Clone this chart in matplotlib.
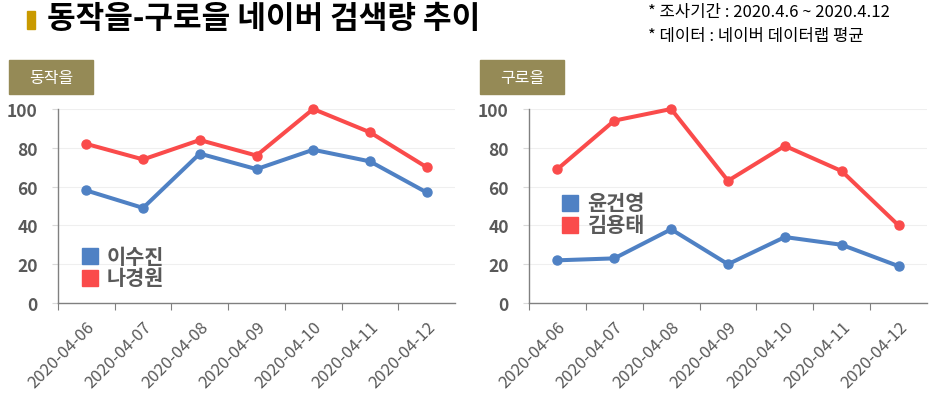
import matplotlib
matplotlib.use("Agg")
import matplotlib.pyplot as plt
from matplotlib.patches import Rectangle

plt.rcParams['font.family'] = ['Noto Sans CJK KR', 'DejaVu Sans']

dates = ["2020-04-06", "2020-04-07", "2020-04-08", "2020-04-09",
         "2020-04-10", "2020-04-11", "2020-04-12"]
yticks = [0, 20, 40, 60, 80, 100]

left_title = "동작을"
left_names = ["이수진", "나경원"]
lee_sujin = [58, 49, 77, 69, 79, 73, 57]
na_kyungwon = [82, 74, 84, 76, 100, 88, 70]

right_title = "구로을"
right_names = ["윤건영", "김용태"]
yoon_gunyoung = [22, 23, 38, 20, 34, 30, 19]
kim_yongtae = [69, 94, 100, 63, 81, 68, 40]

BLUE = "#4F81C4"
RED = "#FA4B4B"
GRAY = "#595959"
OLIVE = "#958A56"

W, H = 932, 402
fig = plt.figure(figsize=(W / 100, H / 100), dpi=100)

def fx(px):
    return px / W

def fy(py):
    return 1 - py / H

# title
fig.patches.append(Rectangle((fx(27), fy(30)), fx(8), 18 / H, transform=fig.transFigure,
                             color="#C99A00", zorder=3))
fig.text(fx(47), fy(19), "동작을-구로을 네이버 검색량 추이", fontsize=22.4, fontweight="bold",
         color="black", va="center", ha="left")
fig.text(fx(648), fy(13), "* 조사기간 : 2020.4.6 ~ 2020.4.12", fontsize=12, color="black",
         va="center", ha="left")
fig.text(fx(648), fy(37), "* 데이터 : 네이버 데이터랩 평균", fontsize=12, color="black",
         va="center", ha="left")

def panel(x0, x1, label_x, title, names, s1, s2, leg_x, leg_y):
    ax = fig.add_axes([fx(x0), fy(304), fx(x1 - x0), 194 / H])
    x = list(range(len(dates)))
    ax.plot(x, s1, color=BLUE, lw=2.9, marker="o", ms=6.5, clip_on=False, zorder=3)
    ax.plot(x, s2, color=RED, lw=2.9, marker="o", ms=6.5, clip_on=False, zorder=3)
    ax.set_xlim(-0.5, len(dates) - 0.5)
    ax.set_ylim(0, 100)
    ax.set_yticks(yticks)
    ax.set_yticklabels([str(v) for v in yticks], fontsize=12.5, fontweight="bold", color=GRAY)
    ax.set_xticks([i - 0.5 for i in range(len(dates))])
    ax.set_xticklabels([])
    ax.set_xticks(x, minor=True)
    ax.set_xticklabels(dates, minor=True, rotation=45, ha="right", rotation_mode="anchor",
                       fontsize=12, color=GRAY)
    ax.tick_params(axis="x", which="minor", length=0, pad=11)
    ax.tick_params(axis="x", which="major", length=5, color="#808080", direction="out")
    ax.tick_params(axis="y", length=4.5, color="#D9D9D9", pad=10)
    for s in ["top", "right"]:
        ax.spines[s].set_visible(False)
    for s in ["left", "bottom"]:
        ax.spines[s].set_color("#808080")
        ax.spines[s].set_linewidth(1.0)
    ax.grid(axis="y", color="#EFEFEF", lw=0.8)
    ax.set_axisbelow(True)
    # panel label
    fig.patches.append(Rectangle((fx(label_x), fy(95)), fx(84), 34 / H,
                                 transform=fig.transFigure, color=OLIVE))
    fig.text(fx(label_x + 42), fy(78), title, fontsize=11.5, color="white",
             ha="center", va="center")
    # legend
    for i, (nm, c) in enumerate(zip(names, [BLUE, RED])):
        yy = leg_y + i * 22
        fig.patches.append(Rectangle((fx(leg_x), fy(yy + 8)), fx(16), 16 / H,
                                     transform=fig.transFigure, color=c))
        fig.text(fx(leg_x + 25), fy(yy), nm, fontsize=15, fontweight="bold",
                 color=GRAY, ha="left", va="center")
    return ax

panel(58, 455, 9, left_title, left_names, lee_sujin, na_kyungwon, 82, 257)
panel(529, 927, 480, right_title, right_names, yoon_gunyoung, kim_yongtae, 562, 204)

fig.savefig("out.png", dpi=100)
